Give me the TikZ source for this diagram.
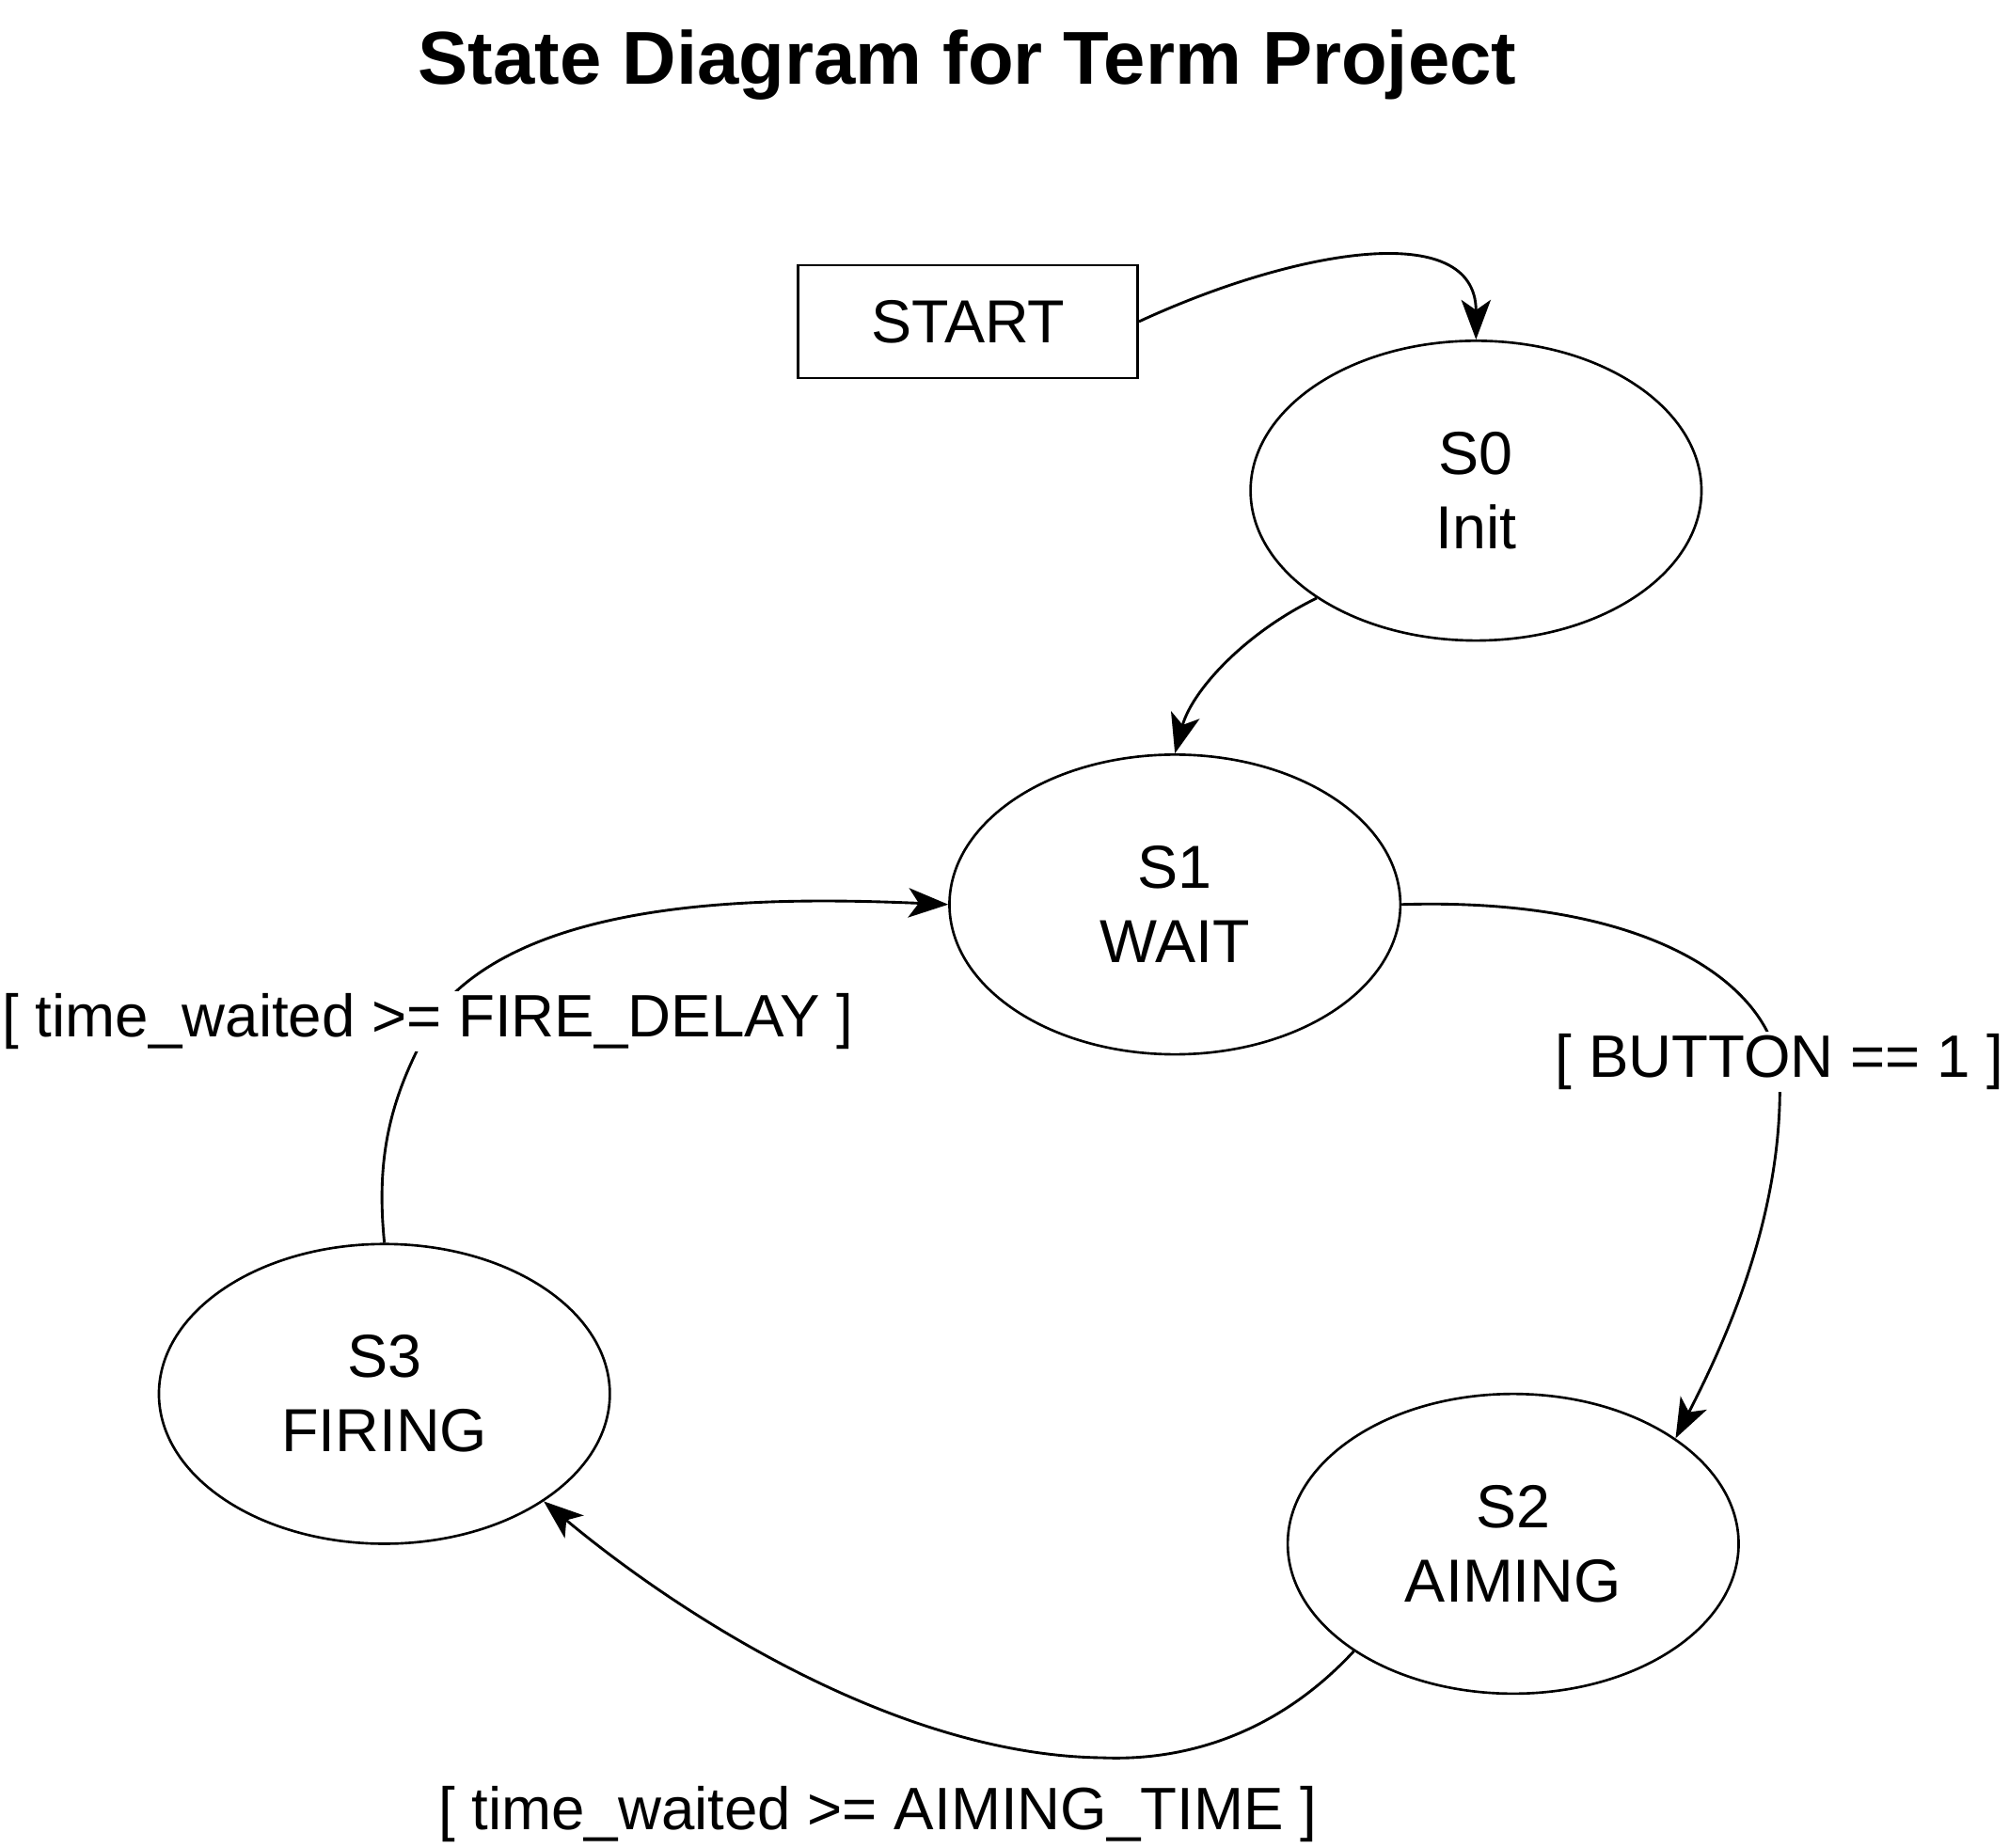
\documentclass[tikz,border=0pt]{standalone}
\usepackage{fontspec}
\setmainfont{Liberation Sans}
\usetikzlibrary{shapes.geometric,arrows.meta}
\begin{document}
\begin{tikzpicture}[x=0.02cm,y=-0.02cm,
  state/.style={draw,line width=1.1pt,ellipse,minimum width=7.04cm,minimum height=4.68cm,inner sep=0pt,align=center,font=\fontsize{27}{33}\selectfont},
  lbl/.style={fill=white,inner sep=1pt,anchor=base,font=\fontsize{26.6}{33}\selectfont},
  edge/.style={line width=1.2pt,-{Stealth[length=0.62cm,width=0.46cm,inset=0.16cm]}}]
\useasboundingbox (0,0) rectangle (1568,1442);
%\draw[step=100,gray,very thin] (0,0) grid (1568,1442);
\node[anchor=base,font=\bfseries\fontsize{33.3}{40}\selectfont] (title) at (755,66) {State Diagram for Term Project};
\node[draw,line width=1.1pt,minimum width=5.3cm,minimum height=1.76cm,inner sep=0pt,font=\fontsize{27}{33}\selectfont] (start) at (755.5,251) {START};
\node[state] (s0) at (1152,383) {S0\\Init};
\node[state] (s1) at (917,706) {S1\\WAIT};
\node[state] (s2) at (1181,1205) {S2\\AIMING};
\node[state] (s3) at (300,1088) {S3\\FIRING};

%------------------------------------------------

\draw[edge] (start.east) .. controls (1010,195) and (1152,170) .. (s0.north);
\draw[edge] (s0.214) .. controls (970,495) and (930,540) .. (s1.north);
\draw[edge] (s1.east) .. controls (1290,700) and (1385,770) .. (1389,840)
  .. controls (1392,950) and (1345,1050) .. (s2.33);
\draw[edge] (s2.214) .. controls (1000,1350) and (930,1375) .. (860,1372)
  .. controls (700,1370) and (530,1260) .. (s3.326);
\draw[edge] (s3.north) .. controls (293,900) and (305,850) .. (345,785)
  .. controls (420,700) and (600,700) .. (s1.west);
\node[lbl] (fire) at (334,809) {[ time\_waited >= FIRE\_DELAY ]};
\node[lbl] (button) at (1389,841) {[ BUTTON == 1 ]};
\node[lbl] (aim) at (685,1428) {[ time\_waited >= AIMING\_TIME ]};
\end{tikzpicture}
\end{document}
